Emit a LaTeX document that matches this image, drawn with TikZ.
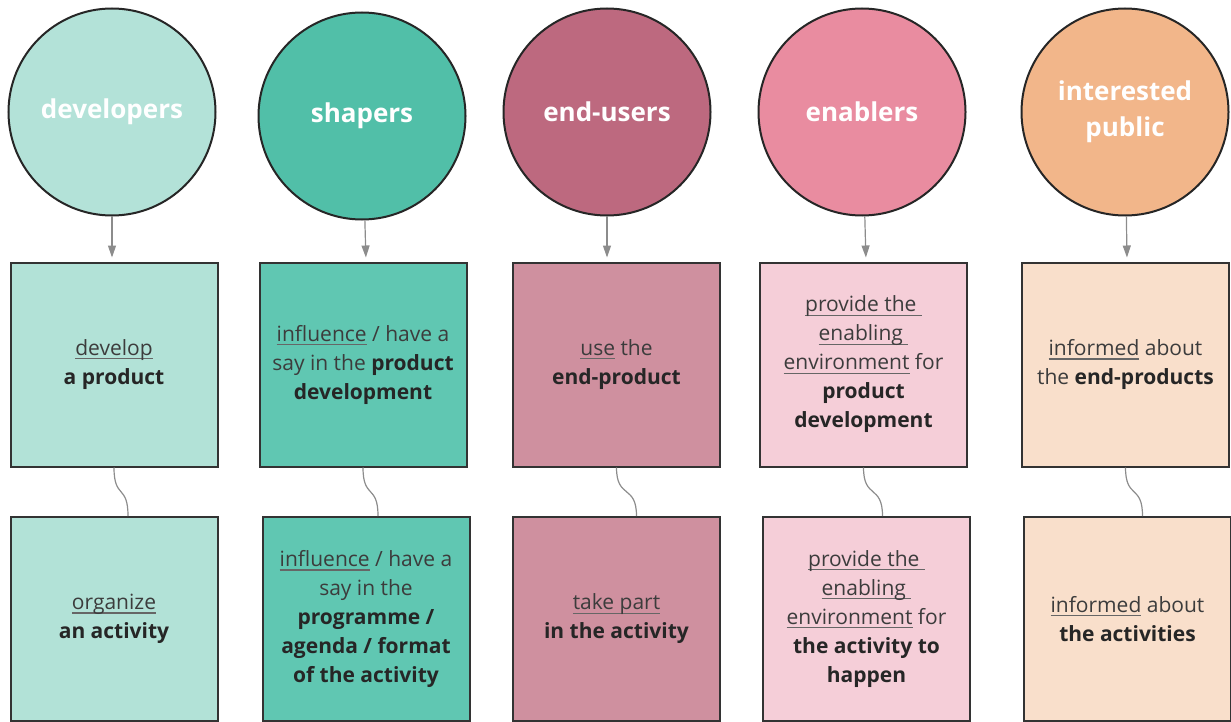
\documentclass[tikz,border=0pt]{standalone}
\usepackage{fontspec}
\setmainfont{Open Sans}
\usepackage{xcolor}
\usepackage{tikz}
\usetikzlibrary{arrows.meta,positioning}
\definecolor{devC}{HTML}{B3E2D8}
\definecolor{shpC}{HTML}{51BFA8}
\definecolor{usrC}{HTML}{BD697F}
\definecolor{enbC}{HTML}{E98CA0}
\definecolor{pubC}{HTML}{F2B68A}
\definecolor{devB}{HTML}{B2E2D7}
\definecolor{shpB}{HTML}{60C7B2}
\definecolor{usrB}{HTML}{CF909F}
\definecolor{enbB}{HTML}{F5CED8}
\definecolor{pubB}{HTML}{F9DFCB}
\definecolor{txtgray}{HTML}{3C3C3C}
\definecolor{boldgray}{HTML}{262626}
\newcommand{\uword}[1]{\setbox0\hbox{#1}\rlap{\color{black!60}\rule[-4pt]{\wd0}{1.2pt}}\box0\relax}
\newcommand{\bword}[1]{\textbf{\color{boldgray}#1}}
\tikzset{role/.style={draw=black!85,line width=2pt,circle,minimum size=207pt,inner sep=0pt,align=center,text=white,font=\fontsize{26}{36}\selectfont\bfseries}}
\tikzset{task/.style={draw=black!80,line width=2pt,minimum width=207pt,minimum height=204pt,inner sep=0pt,align=center,text=txtgray,font=\fontsize{21}{29}\selectfont}}

\begin{document}
\begin{tikzpicture}[x=1pt, y=-1pt, >={Triangle[length=12pt,width=8pt]}]
\tikzstyle{arr}=[->,draw=black!45,line width=1.2pt,shorten >=4pt]
\tikzstyle{wire}=[draw=black!45,line width=1.2pt]
    \useasboundingbox (0,0) rectangle (1231,722);
    % roles
    \node[role,fill=devC] (dev) at (112,112) {developers};
    \node[role,fill=shpC] (shp) at (362,116) {shapers};
    \node[role,fill=usrC] (usr) at (607,112) {end-users};
    \node[role,fill=enbC] (enb) at (862,112) {enablers};
    \node[role,fill=pubC] (pub) at (1125,112) {interested\\public};
    % product row
    \node[task,fill=devB] (devtop) at (114,364.5) {\uword{develop}\\\bword{a product}};
    \node[task,fill=shpB] (shptop) at (363,364.5) {\uword{influence} / have a\\say in the \bword{product}\\\bword{development}};
    \node[task,fill=usrB] (usrtop) at (616.5,364.5) {\uword{use} the\\\bword{end-product}};
    \node[task,fill=enbB] (enbtop) at (863.5,364.5) {\uword{provide the\ }\\\uword{enabling\ }\\\uword{environment} for\\\bword{product}\\\bword{development}};
    \node[task,fill=pubB] (pubtop) at (1125.5,364.5) {\uword{informed} about\\the \bword{end-products}};
    % activity row
    \node[task,fill=devB] (devbot) at (114,619) {\uword{organize}\\\bword{an activity}};
    \node[task,fill=shpB] (shpbot) at (366,619) {\uword{influence} / have a\\say in the\\\bword{programme /}\\\bword{agenda / format}\\\bword{of the activity}};
    \node[task,fill=usrB] (usrbot) at (616.5,619) {\uword{take part}\\\bword{in the activity}};
    \node[task,fill=enbB] (enbbot) at (866.5,619) {\uword{provide the\ }\\\uword{enabling\ }\\\uword{environment} for\\\bword{the activity to}\\\bword{happen}};
    \node[task,fill=pubB] (pubbot) at (1127.5,619) {\uword{informed} about\\\bword{the activities}};
    % arrows
    \path (dev) edge[arr] (dev |- devtop.north);
    \path (shp) edge[arr] ([xshift=4pt]shp |- shptop.north);
    \path (usr) edge[arr] (usr |- usrtop.north);
    \path (enb) edge[arr] ([xshift=4pt]enb |- enbtop.north);
    \path (pub) edge[arr] ([xshift=2pt]pub |- pubtop.north);
    % links
    \draw[wire] (devtop.south) .. controls +(0,32) and +(0,-32) .. ([xshift=14pt]devbot.north);
    \draw[wire] (shptop.south) .. controls +(0,32) and +(0,-32) .. ([xshift=12pt]shpbot.north);
    \draw[wire] (usrtop.south) .. controls +(0,32) and +(0,-32) .. ([xshift=20pt]usrbot.north);
    \draw[wire] (enbtop.south) .. controls +(0,32) and +(0,-32) .. ([xshift=16pt]enbbot.north);
    \draw[wire] (pubtop.south) .. controls +(0,32) and +(0,-32) .. ([xshift=15pt]pubbot.north);
\end{tikzpicture}
\end{document}
